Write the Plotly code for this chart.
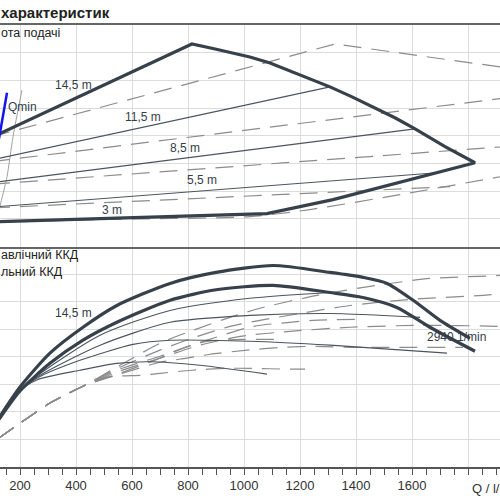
import plotly.graph_objects as go

# ---------------- data (Q in l/min, H in m, eta in %) ----------------
Q_TICKS = [200, 400, 600, 800, 1000, 1200, 1400, 1600, 1800]
Q_TICK_TEXT = ["200", "400", "600", "800", "1000", "1200", "1400", "1600", ""]

# Top panel: head envelope (max curve + limits)
env_q = [100, 814, 893, 1021, 1093, 1164, 1236, 1307, 1386, 1468, 1539, 1611, 1718, 1825,
         1689, 1496, 1318, 1082, 128.6, 100]
env_h = [7.9, 14.63, 14.28, 13.69, 13.26, 12.68, 12.11, 11.53, 10.81, 10.02, 9.30, 8.50,
         7.21, 6.05, 5.33, 4.32, 3.39, 2.38, 1.80, 1.78]

h115_q = [100, 628.6, 1307]
h115_h = [6.26, 8.55, 11.53]
h85_q = [100, 1611]
h85_h = [4.61, 8.50]
h55_q = [100, 1689]
h55_h = [2.84, 5.33]

dA_q = [100, 1325, 1950]
dA_h = [7.93, 14.63, 12.87]
dB_q = [100, 1950]
dB_h = [6.13, 10.77]
dD_q = [100, 1950]
dD_h = [4.50, 7.24]
dF_q = [100, 1736]
dF_h = [2.79, 4.32]
dG_q = [100, 485.7, 1021, 1236, 1557, 1914, 1950]
dG_h = [1.73, 1.95, 2.16, 2.67, 3.75, 5.04, 5.19]

grey_q = [207, 175, 153.6, 128.6, 118]
grey_h = [11.3, 7.93, 5.04, 2.88, 1.5]

qmin_q = [153.6, 125]
qmin_h = [11.1, 7.8]

# Bottom panel: efficiency
e_up_q = [125, 200, 307, 425, 546, 736, 900, 1104, 1307, 1425, 1511, 1604, 1700, 1807]
e_up_e = [17.8, 29.0, 41.3, 50.7, 58.6, 66.6, 70.6, 73.1, 70.6, 68.8, 66.6, 60.5, 53.2, 46.7]
e_lo_q = [125, 200, 307, 425, 546, 736, 900, 1104, 1307, 1425, 1546, 1664, 1825]
e_lo_e = [17.3, 27.6, 37.6, 46.0, 52.5, 60.5, 64.3, 65.9, 63.3, 61.5, 57.9, 50.7, 42.0]

t1_q = [125, 200, 260, 486, 736, 1021, 1307]
t1_e = [17.3, 27.6, 33.0, 47.8, 56.8, 61.2, 63.3]
t2_q = [125, 200, 260, 486, 736, 1021, 1307, 1629]
t2_e = [17.3, 27.6, 32.6, 44.2, 52.5, 55.0, 55.7, 54.3]
t3_q = [125, 200, 260, 414, 604, 736, 1021, 1307, 1725]
t3_e = [17.3, 27.6, 32.2, 38.7, 44.5, 46.0, 45.6, 44.2, 41.3]
t4_q = [125, 200, 260, 414, 546, 664, 843, 1082]
t4_e = [17.3, 27.6, 31.6, 35.1, 37.6, 38.2, 36.9, 33.7]

dstart_q = [125, 200, 307, 425]
dstart_e = [10.5, 15.9, 23.2, 29.3]
de_A_q = [557, 700, 818, 950, 1057, 1261, 1475, 1664, 1914, 1950]
de_A_e = [36.9, 44.9, 49.6, 54.3, 57.6, 62.3, 65.9, 68.4, 69.5, 69.9]
de_B_q = [557, 700, 814, 950, 1057, 1200, 1379, 1593, 1854, 1950]
de_B_e = [36.2, 42.4, 46.7, 51.0, 53.2, 55.7, 58.6, 60.8, 62.3, 63.0]
de_C_q = [557, 700, 843, 1032, 1164, 1246, 1414]
de_C_e = [35.5, 40.2, 45.2, 51.0, 52.5, 53.2, 53.6]
de_D_q = [557, 700, 843, 986, 1164, 1379, 1629, 1914, 1950]
de_D_e = [34.8, 39.5, 44.2, 47.4, 49.2, 50.7, 51.4, 51.0, 50.7]
de_E_q = [557, 700, 782, 868, 996, 1111]
de_E_e = [34.0, 39.5, 43.1, 45.6, 46.3, 46.3]
de_F_q = [557, 700, 796, 879, 1011, 1136, 1261, 1379, 1557, 1782]
de_F_e = [33.7, 38.0, 39.5, 40.9, 42.4, 43.4, 43.8, 43.4, 43.4, 43.4]
de_G_q = [511, 639, 700, 814, 939, 1021, 1154, 1218]
de_G_e = [32.6, 33.3, 34.0, 35.1, 35.8, 35.8, 35.5, 35.5]

# ---------------- styles ----------------
THICK = dict(color="#37414b", width=3.2)
THIN = dict(color="#4b5560", width=1.1)
DASH = dict(color="#8c8c8c", width=1.2, dash="18px,10px")
FONT = "Liberation Sans, Arial, sans-serif"

fig = go.Figure()

def add(q, v, line, top, shape="linear"):
    ln = dict(line)
    ln["shape"] = shape
    if shape == "spline":
        ln["smoothing"] = 0.7
    fig.add_trace(go.Scatter(x=q, y=v, mode="lines", line=ln, hoverinfo="skip",
                             xaxis="x2" if top else "x", yaxis="y2" if top else "y",
                             showlegend=False))

# top panel
for q, h in [(dA_q, dA_h), (dB_q, dB_h), (dD_q, dD_h), (dF_q, dF_h)]:
    add(q, h, DASH, True)
add(dG_q, dG_h, DASH, True, "spline")
add(grey_q, grey_h, dict(color="#a0a0a0", width=1), True, "spline")
add(h115_q, h115_h, THIN, True)
add(h85_q, h85_h, THIN, True)
add(h55_q, h55_h, THIN, True)
add(env_q, env_h, THICK, True)
add(qmin_q, qmin_h, dict(color="#1414f0", width=2.5), True)

# bottom panel
for q, e in [(de_A_q, de_A_e), (de_B_q, de_B_e), (de_C_q, de_C_e), (de_D_q, de_D_e),
             (de_E_q, de_E_e), (de_F_q, de_F_e), (de_G_q, de_G_e)]:
    add(dstart_q + q, dstart_e + e, DASH, False, "spline")
for q, e in [(t1_q, t1_e), (t2_q, t2_e), (t3_q, t3_e), (t4_q, t4_e)]:
    add(q, e, THIN, False, "spline")
add(e_lo_q, e_lo_e, THICK, False, "spline")
add(e_up_q, e_up_e, THICK, False, "spline")

GRID = "#dcdcdc"
xr = [128.57, 1914.3]
fig.update_layout(
    width=500, height=500, margin=dict(l=0, r=0, t=0, b=0),
    paper_bgcolor="white", plot_bgcolor="white",
    font=dict(family=FONT, color="#333333", size=13),
    xaxis=dict(domain=[0, 1], range=xr, anchor="y", tickvals=Q_TICKS, ticktext=Q_TICK_TEXT,
               showgrid=True, gridcolor=GRID, gridwidth=1.2, zeroline=False,
               showline=True, linecolor="#555555", linewidth=1.5,
               ticks="outside", ticklen=6, tickcolor="#555555", tickwidth=1.2,
               tickfont=dict(size=13, color="#333333"),
               minor=dict(dtick=50, tick0=0, ticks="outside", ticklen=6,
                          tickcolor="#555555", tickwidth=1, showgrid=False)),
    yaxis=dict(domain=[0.066, 0.507], range=[0, 80], dtick=10, anchor="x",
               showgrid=True, gridcolor=GRID, gridwidth=1.2, zeroline=False,
               showticklabels=False, ticks=""),
    xaxis2=dict(domain=[0, 1], range=xr, anchor="y2", matches="x", tickvals=Q_TICKS,
                showticklabels=False, ticks="",
                showgrid=True, gridcolor=GRID, gridwidth=1.2, zeroline=False,
                showline=True, mirror=True, linecolor="#666666", linewidth=1.5),
    yaxis2=dict(domain=[0.507, 0.95], range=[0, 16], dtick=2, anchor="x2",
                showgrid=True, gridcolor=GRID, gridwidth=1.2, zeroline=False,
                showticklabels=False, ticks=""),
)

def px_ann(text, px, py, size=12, bold=False, anchor="left"):
    fig.add_annotation(text=f"<b>{text}</b>" if bold else text, xref="paper", yref="paper",
                       x=px / 500, y=1 - py / 500, xanchor=anchor, yanchor="middle",
                       showarrow=False, font=dict(size=size, color="#222222", family=FONT))

def data_ann(text, q, v, top, size=12):
    fig.add_annotation(text=text, xref="x2" if top else "x", yref="y2" if top else "y",
                       x=q, y=v, xanchor="left", yanchor="middle", showarrow=False,
                       font=dict(size=size, color="#333d47", family=FONT))

px_ann("характеристик", -1, 12, size=15, bold=True)
px_ann("ота подачі", -1, 33, size=12.5)
px_ann("авлічний ККД", -1, 255, size=12.5)
px_ann("льний ККД", -1, 272, size=12.5)

data_ann("14,5 m", 318, 11.68, True)
data_ann("11,5 m", 568, 9.37, True)
data_ann("8,5 m", 729, 7.14, True)
data_ann("5,5 m", 789, 4.83, True)
data_ann("3 m", 486, 2.67, True)
data_ann("Qmin", 150, 10.09, True)
data_ann("14,5 m", 318, 55.7, False)
data_ann("2940 1/min", 1647, 47.1, False)

fig.add_annotation(text="Q / l/min", xref="x", yref="paper", x=1800, y=1 - 488 / 500,
                   xanchor="left", yanchor="middle", xshift=2, showarrow=False,
                   font=dict(size=13, color="#333333", family=FONT))

fig.write_html("out.html")
